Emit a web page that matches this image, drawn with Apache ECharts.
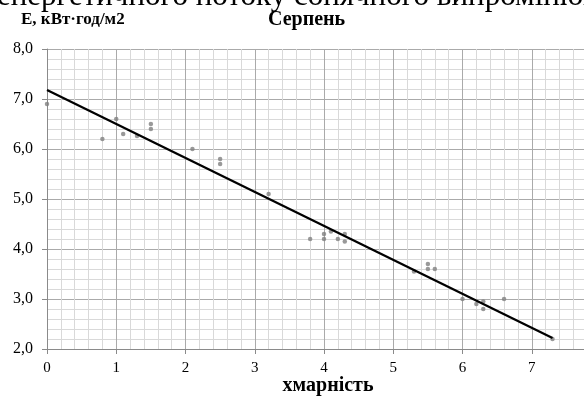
<!DOCTYPE html>
<html>
<head>
<meta charset="utf-8">
<script src="https://cdn.jsdelivr.net/npm/echarts@6/dist/echarts.min.js"></script>
<style>
  html, body { margin: 0; padding: 0; background: #fff; }
  #chart { width: 584px; height: 396px; }
</style>
</head>
<body>
<div id="chart"></div>
<script>
// хмарність (x) / E, кВт·год/м2 (y) — серпень
const cloudX = [0, 0.8, 1.0, 1.1, 1.3, 1.5, 1.5, 2.1, 2.5, 2.5, 3.2,
  3.8, 4.0, 4.0, 4.1, 4.2, 4.3, 4.3, 5.3, 5.5, 5.5, 5.6,
  6.0, 6.2, 6.3, 6.3, 6.6, 7.3];
const energyY = [6.9, 6.2, 6.6, 6.3, 6.26, 6.5, 6.4, 6.0, 5.8, 5.7, 5.1,
  4.2, 4.3, 4.2, 4.35, 4.2, 4.3, 4.15, 3.55, 3.7, 3.6, 3.6,
  3.0, 2.9, 2.95, 2.8, 3.0, 2.2];
// лінія тренду
const trendX = [0, 7.3];
const trendY = [7.18, 2.22];

const points = cloudX.map((x, i) => [x, energyY[i]]);
const trend = trendX.map((x, i) => [x, trendY[i]]);

const serif = '"Liberation Serif", "DejaVu Serif", serif';
const chart = echarts.init(document.getElementById('chart'));

const option = {
  animation: false,
  backgroundColor: '#fff',
  grid: { left: 47, top: 49, width: 554, height: 300, outerBoundsMode: 'none', containLabel: false },
  graphic: [
    {
      type: 'text', left: -3, top: -19, silent: true,
      style: { text: 'енергетичного потоку сонячного випромінювання', font: '31px ' + serif, fill: '#000' }
    },
    {
      type: 'text', left: 21, top: 11, silent: true,
      style: { text: 'E, кВт·год/м2', font: 'bold 17px ' + serif, fill: '#000' }
    },
    {
      type: 'text', left: 268, top: 10, silent: true,
      style: { text: 'Серпень', font: 'bold 20px ' + serif, fill: '#000' }
    },
    {
      type: 'text', x: 328, y: 376, silent: true,
      style: { text: 'хмарність', font: 'bold 20px ' + serif, fill: '#000', align: 'center', verticalAlign: 'top' }
    }
  ],
  xAxis: {
    type: 'value', min: 0, max: 8, interval: 1,
    axisLine: { show: true, onZero: false, lineStyle: { color: '#8a8a8a', width: 1 } },
    axisTick: { show: true, length: 5, lineStyle: { color: '#8a8a8a' } },
    axisLabel: { color: '#000', fontFamily: serif, fontSize: 15, margin: 12 },
    splitLine: { show: true, lineStyle: { color: '#aaaaaa', width: 1 } },
    minorTick: { show: false, splitNumber: 5 },
    minorSplitLine: { show: true, lineStyle: { color: '#d9d9d9', width: 1 } }
  },
  yAxis: {
    type: 'value', min: 2, max: 8, interval: 1,
    axisLine: { show: true, onZero: false, lineStyle: { color: '#8a8a8a', width: 1 } },
    axisTick: { show: true, length: 5, lineStyle: { color: '#8a8a8a' } },
    axisLabel: {
      color: '#000', fontFamily: serif, fontSize: 16, margin: 14,
      formatter: v => v.toFixed(1).replace('.', ',')
    },
    splitLine: { show: true, lineStyle: { color: '#aaaaaa', width: 1 } },
    minorTick: { show: false, splitNumber: 5 },
    minorSplitLine: { show: true, lineStyle: { color: '#d9d9d9', width: 1 } }
  },
  series: [
    {
      type: 'scatter', data: points, symbol: 'circle', symbolSize: 4.5,
      itemStyle: { color: '#808080' }, z: 3
    },
    {
      type: 'line', data: trend, symbol: 'none',
      lineStyle: { color: '#000', width: 2.3 }, z: 4
    }
  ]
};
chart.setOption(option);
</script>
</body>
</html>
